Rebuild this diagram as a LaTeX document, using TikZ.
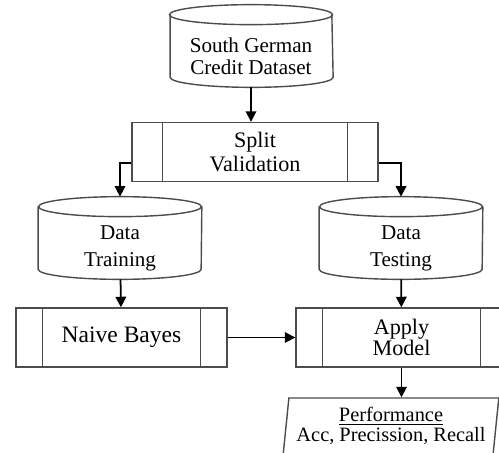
\documentclass[tikz,border=0pt]{standalone}
\usepackage{fontspec}
\setmainfont{Liberation Serif}
\usetikzlibrary{shapes.geometric,arrows.meta}

\begin{document}
\begin{tikzpicture}[x=0.02cm, y=-0.02cm, >={Triangle[length=6pt,width=6pt]}]
	\tikzstyle{Database} = [rectangle, minimum width=3.26cm, minimum height=1.24cm, inner sep=0pt, align=center, font=\fontsize{12}{15.3}\selectfont,
		append after command={\pgfextra{
			\draw[black!70, line width=0.8pt] ([yshift=0.2cm]\tikzlastnode.north) ellipse [x radius=1.63cm, y radius=0.2cm];
			\draw[black!70, line width=0.8pt] ([yshift=0.2cm]\tikzlastnode.north west) -- ([yshift=0.2cm]\tikzlastnode.south west)
				arc [start angle=180, end angle=360, x radius=1.63cm, y radius=0.2cm] -- ([yshift=0.2cm]\tikzlastnode.north east);
		}}]
	\tikzstyle{Process} = [rectangle, draw=black!70, line width=0.8pt, minimum height=1.18cm, inner sep=0pt, align=center, font=\fontsize{12.6}{13.6}\selectfont]
	\tikzstyle{Output} = [trapezium, trapezium left angle=82, trapezium right angle=98, trapezium stretches=true, draw=black!70, line width=0.8pt, minimum width=4.32cm, minimum height=1.12cm, inner sep=0pt, align=center, font=\fontsize{11.6}{11.4}\selectfont]
	\useasboundingbox (0,0) rectangle (499,452);
	\clip (0,0) rectangle (499,452);
	\node (dataset) at (251,56) [Database, minimum width=3.22cm, font=\fontsize{12}{12.5}\selectfont] {South German\\Credit Dataset};
	\node (split) at (255,152) [Process, minimum width=4.92cm] {Split\\Validation};
	\node (train) at (120,248) [Database] {Data\\Training};
	\node (test) at (401,248) [Database] {Data\\Testing};
	\node (nb) at (121.5,337.5) [Process, minimum width=4.22cm, font=\fontsize{13.4}{15}\selectfont] {Naive Bayes};
	\node (apply) at (401.5,337.5) [Process, minimum width=4.22cm, font=\fontsize{12.6}{12}\selectfont] {Apply\\Model};
	\node (perf) at (391,426) [Output] {\underline{Performance}\\Acc, Precission, Recall};
	% side bars of the process boxes
	\foreach \n/\d in {split/0.62cm, nb/0.54cm, apply/0.54cm} {
		\draw[black!70, line width=0.8pt] ([xshift=\d]\n.north west) -- ([xshift=\d]\n.south west);
		\draw[black!70, line width=0.8pt] ([xshift=-\d]\n.north east) -- ([xshift=-\d]\n.south east);
	}
	\draw[->, line width=1pt] (dataset.south) -- (dataset.south |- split.north);
	\draw[->, line width=1pt] ([yshift=-0.22cm]split.west) -| ([yshift=0.4cm]train.north);
	\draw[->, line width=1pt] ([yshift=-0.22cm]split.east) -| ([yshift=0.4cm]test.north);
	\draw[->, line width=1pt] (train) -- (nb);
	\draw[->, line width=1pt] (test) -- (apply);
	\draw[->, line width=1pt] (nb) -- (apply);
	\draw[->, line width=1pt] (apply.south) -- (apply.south |- perf.north);
\end{tikzpicture}
\end{document}
